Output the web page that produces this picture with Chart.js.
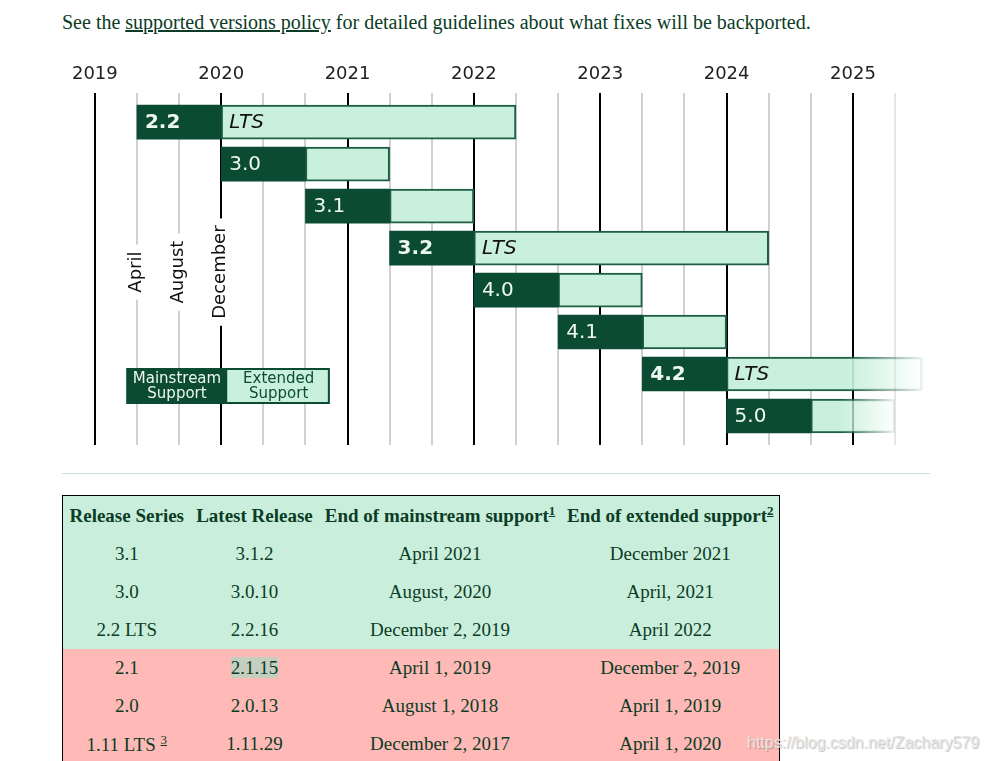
<!DOCTYPE html>
<html>
<head>
<meta charset="utf-8">
<script src="https://cdn.jsdelivr.net/npm/chart.js@4"></script>
<style>
body { margin:0; background:#fff; width:986px; height:761px; overflow:hidden; position:relative;
  font-family:"Liberation Serif", serif; color:#0c3c26; }
#intro { position:absolute; left:62px; top:11px; margin:0; font-size:20px; white-space:nowrap; }
#intro a { color:#0c3c26; text-decoration:underline; }
#wrap { position:absolute; left:62px; top:55px; width:868px; height:390px; }
#sep { position:absolute; left:62px; top:473px; width:868px; height:1px; background:#c9e0dc; }
#releases { position:absolute; left:62px; top:495px; border-collapse:collapse; border:1.5px solid #000;
  font-size:19px; color:#0c3c26; }
#releases th, #releases td { text-align:center; padding:0; }
#releases th { height:39px; font-weight:bold; }
#releases td { height:38px; }
#releases .ok th, #releases .ok td { background:#c9efdc; }
#releases .eol td { background:#ffbab7; }
#releases sup { font-size:13px; text-decoration:underline; }
.hl { background:#c4cfc0; }
#mark { position:absolute; left:747px; top:734px; font-family:"Liberation Sans", sans-serif; font-size:16px;
  color:#e6e6e6; text-shadow:1px 1px 1px rgba(0,0,0,0.25); white-space:nowrap; }
</style>
</head>
<body>
<p id="intro">See the <a>supported versions policy</a> for detailed guidelines about what fixes will be backported.</p>
<div id="wrap"><canvas id="roadmap" width="868" height="390"></canvas></div>
<div id="sep"></div>
<table id="releases">
  <colgroup><col style="width:128px"><col style="width:128px"><col style="width:243px"><col style="width:218px"></colgroup>
  <thead><tr class="ok">
    <th>Release Series</th><th>Latest Release</th>
    <th>End of mainstream support<sup>1</sup></th><th>End of extended support<sup>2</sup></th>
  </tr></thead>
  <tbody id="rows"></tbody>
</table>
<div id="mark">https://blog.csdn.net/Zachary579</div>
<script>
// roadmap bars (years as decimals, thirds of a year)
const releases = ['2.2', '3.0', '3.1', '3.2', '4.0', '4.1', '4.2', '5.0'];
const isLTS = [true, false, false, true, false, false, true, false];
const mainstreamStart = [2019.333, 2020.0, 2020.667, 2021.333, 2022.0, 2022.667, 2023.333, 2024.0];
const mainstreamEnd = [2020.0, 2020.667, 2021.333, 2022.0, 2022.667, 2023.333, 2024.0, 2024.667];
const extendedEnd = [2022.333, 2021.333, 2022.0, 2024.333, 2023.333, 2024.0, 2025.55, 2025.333];
const fadeFrom = [null, null, null, null, null, null, 2024.95, 2024.9];

const years = [2019, 2020, 2021, 2022, 2023, 2024, 2025];
const monthMarks = [0, 4, 8];
const monthNames = ['April', 'August', 'December'];
const monthAt = [2019.333, 2019.667, 2020.0];
const legendLabels = [['Mainstream', 'Support'], ['Extended', 'Support']];

// release table
const tableSeries = ['3.1', '3.0', '2.2 LTS', '2.1', '2.0', '1.11 LTS'];
const tableNotes = ['', '', '', '', '', '3'];
const tableLatest = ['3.1.2', '3.0.10', '2.2.16', '2.1.15', '2.0.13', '1.11.29'];
const tableMainEnd = ['April 2021', 'August, 2020', 'December 2, 2019', 'April 1, 2019', 'August 1, 2018', 'December 2, 2017'];
const tableExtEnd = ['December 2021', 'April, 2021', 'April 2022', 'December 2, 2019', 'April 1, 2019', 'April 1, 2020'];
const tableSupported = [true, true, true, false, false, false];

var DARK = '#0c4b33';
var LIGHT = '#c9f0dd';

var rows = '';
for (var i = 0; i < tableSeries.length; i++) {
	var note = tableNotes[i] ? ' <sup>' + tableNotes[i] + '</sup>' : '';
	var latest = tableLatest[i] === '2.1.15' ? '<span class="hl">' + tableLatest[i] + '</span>' : tableLatest[i];
	rows += '<tr class="' + (tableSupported[i] ? 'ok' : 'eol') + '"><td>' + tableSeries[i] + note + '</td><td>' + latest +
		'</td><td>' + tableMainEnd[i] + '</td><td>' + tableExtEnd[i] + '</td></tr>';
}
document.getElementById('rows').innerHTML = rows;

var tickValues = [];
years.forEach(function(y) {
	monthMarks.forEach(function(m) {
		if (y + m / 12 < 2025.4) tickValues.push(y + m / 12);
	});
});
function isYear(v) { return Math.abs(v - Math.round(v)) < 1e-6; }

function fade(base, endColor) {
	return function(c) {
		var i = c.dataIndex;
		var chart = c.chart;
		if (fadeFrom[i] == null || !chart.chartArea) return base;
		var x = chart.scales.x;
		var g = chart.ctx.createLinearGradient(x.getPixelForValue(fadeFrom[i]), 0, x.getPixelForValue(extendedEnd[i]), 0);
		g.addColorStop(0, base);
		g.addColorStop(1, endColor);
		return g;
	};
}

var textPlugin = {
	id: 'roadmapText',
	beforeDatasetsDraw: function(chart) {
		var ctx = chart.ctx, area = chart.chartArea, x = chart.scales.x;
		var cy = area.top + 179;
		ctx.save();
		ctx.font = '18px "DejaVu Sans"';
		ctx.textAlign = 'center';
		ctx.textBaseline = 'middle';
		for (var i = 0; i < monthNames.length; i++) {
			var px = x.getPixelForValue(monthAt[i]);
			var w = ctx.measureText(monthNames[i]).width;
			ctx.fillStyle = '#fff';
			ctx.fillRect(px - 4, cy - w / 2 - 7, 8, w + 14);
			ctx.save();
			ctx.translate(px - 1, cy);
			ctx.rotate(-Math.PI / 2);
			ctx.fillStyle = '#111';
			ctx.fillText(monthNames[i], 0, 0);
			ctx.restore();
		}
		ctx.restore();
	},
	afterDatasetsDraw: function(chart) {
		var ctx = chart.ctx, area = chart.chartArea, x = chart.scales.x;
		ctx.save();
		ctx.textBaseline = 'middle';
		ctx.textAlign = 'left';
		var main = chart.getDatasetMeta(0).data;
		var ext = chart.getDatasetMeta(1).data;
		for (var i = 0; i < releases.length; i++) {
			var m = main[i].getProps(['x', 'y', 'base'], true);
			ctx.font = (isLTS[i] ? 'bold ' : '') + '20px "DejaVu Sans"';
			ctx.fillStyle = '#eef7f2';
			ctx.fillText(releases[i], Math.min(m.x, m.base) + 8, m.y + 1);
			if (isLTS[i]) {
				var e = ext[i].getProps(['x', 'y', 'base'], true);
				ctx.font = 'italic 20px "DejaVu Sans"';
				ctx.fillStyle = '#111';
				ctx.fillText('LTS', Math.min(e.x, e.base) + 8, e.y + 1);
			}
		}
		// legend box
		var lx0 = x.getPixelForValue(2019.25), lxm = x.getPixelForValue(2020.05), lx1 = x.getPixelForValue(2020.86);
		var ly0 = area.bottom - 77, ly1 = area.bottom - 41;
		ctx.fillStyle = DARK;
		ctx.fillRect(lx0, ly0, lxm - lx0, ly1 - ly0);
		ctx.fillStyle = LIGHT;
		ctx.fillRect(lxm, ly0, lx1 - lxm, ly1 - ly0);
		ctx.strokeStyle = DARK;
		ctx.lineWidth = 2;
		ctx.strokeRect(lx0 + 1, ly0 + 1, lx1 - lx0 - 2, ly1 - ly0 - 2);
		ctx.font = '15px "DejaVu Sans"';
		ctx.textAlign = 'center';
		ctx.fillStyle = '#eef7f2';
		ctx.fillText(legendLabels[0][0], (lx0 + lxm) / 2, ly0 + 11);
		ctx.fillText(legendLabels[0][1], (lx0 + lxm) / 2, ly0 + 26);
		ctx.fillStyle = DARK;
		ctx.fillText(legendLabels[1][0], (lxm + lx1) / 2, ly0 + 11);
		ctx.fillText(legendLabels[1][1], (lxm + lx1) / 2, ly0 + 26);
		ctx.restore();
	}
};

var roadmap = new Chart(document.getElementById('roadmap'), {
	type: 'bar',
	data: {
		datasets: [{
			label: 'Mainstream Support',
			data: releases.map(function(r, i) { return {x: [mainstreamStart[i], mainstreamEnd[i]], y: i}; }),
			backgroundColor: DARK,
			borderColor: DARK,
			borderWidth: 0,
			grouped: false,
			barThickness: 34
		}, {
			label: 'Extended Support',
			data: releases.map(function(r, i) { return {x: [mainstreamEnd[i], extendedEnd[i]], y: i}; }),
			backgroundColor: fade(LIGHT, 'rgba(201,240,221,0)'),
			borderColor: fade('#1d5e44', 'rgba(29,94,68,0.08)'),
			borderWidth: 2,
			borderSkipped: false,
			grouped: false,
			barThickness: 34
		}]
	},
	options: {
		indexAxis: 'y',
		responsive: false,
		animation: false,
		events: [],
		layout: { padding: { top: 0.5, left: 0, right: 0, bottom: 0 } },
		plugins: { legend: { display: false }, tooltip: { enabled: false } },
		scales: {
			x: {
				type: 'linear',
				position: 'top',
				min: 2018.74,
				max: 2025.61,
				afterBuildTicks: function(s) { s.ticks = tickValues.map(function(v) { return {value: v}; }); },
				border: { display: false },
				grid: {
					drawTicks: false,
					lineWidth: 2,
					color: function(c) {
						if (isYear(c.tick.value)) return '#000';
						return c.tick.value > 2025.2 ? '#e6e6e6' : '#d0d0d0';
					}
				},
				ticks: {
					autoSkip: false,
					maxRotation: 0,
					padding: 8,
					color: '#222',
					font: { family: 'DejaVu Sans', size: 18 },
					callback: function(v) { return isYear(v) ? String(Math.round(v)) : ''; }
				}
			},
			y: {
				type: 'linear',
				reverse: true,
				offset: false,
				min: -0.69,
				max: 7.69,
				display: false
			}
		}
	},
	plugins: [textPlugin]
});
</script>
</body>
</html>
